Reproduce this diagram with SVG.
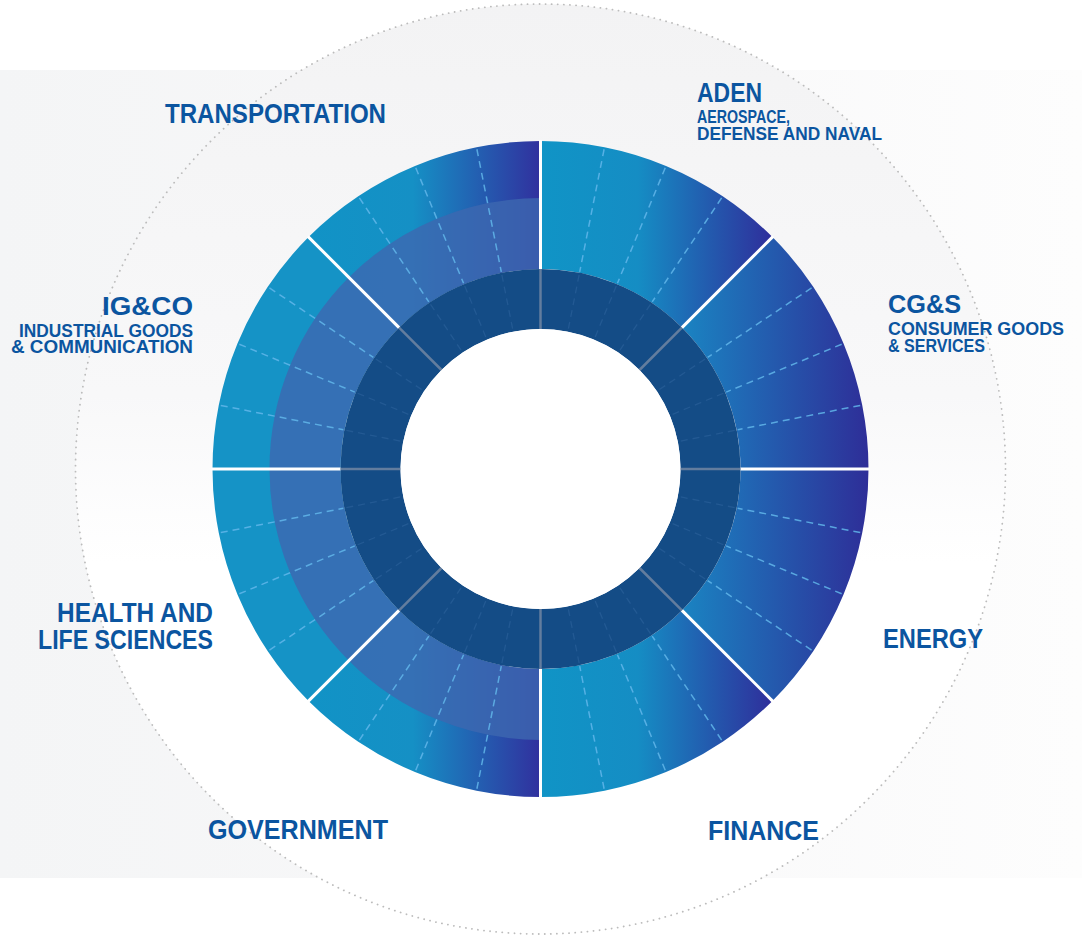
<svg xmlns="http://www.w3.org/2000/svg" width="1082" height="938" viewBox="0 0 1082 938">
  <defs>
    <linearGradient id="bgRect" x1="0" y1="0" x2="1082" y2="0" gradientUnits="userSpaceOnUse">
      <stop offset="0" stop-color="#f4f5f6"/>
      <stop offset="0.5" stop-color="#f8f8f9"/>
      <stop offset="1" stop-color="#fdfdfd"/>
    </linearGradient>
    <linearGradient id="bgCircle" x1="0" y1="4" x2="0" y2="934" gradientUnits="userSpaceOnUse">
      <stop offset="0" stop-color="#f3f3f4"/>
      <stop offset="0.42" stop-color="#f8f8f9"/>
      <stop offset="0.6" stop-color="#ffffff"/>
      <stop offset="1" stop-color="#ffffff"/>
    </linearGradient>
    <linearGradient id="gRightTB" x1="540.5" y1="0" x2="772.5" y2="0" gradientUnits="userSpaceOnUse">
      <stop offset="0" stop-color="#1094c6"/>
      <stop offset="0.42" stop-color="#158dc4"/>
      <stop offset="1" stop-color="#2f2e9b"/>
    </linearGradient>
    <linearGradient id="gRightMid" x1="682" y1="0" x2="868.5" y2="0" gradientUnits="userSpaceOnUse">
      <stop offset="0" stop-color="#1a84c2"/>
      <stop offset="1" stop-color="#2e2e98"/>
    </linearGradient>
    <linearGradient id="gLeftTB" x1="308.5" y1="0" x2="540.5" y2="0" gradientUnits="userSpaceOnUse">
      <stop offset="0" stop-color="#1193c6"/>
      <stop offset="0.45" stop-color="#1590c5"/>
      <stop offset="1" stop-color="#31309e"/>
    </linearGradient>
    <style>
      .lbl { font-family: "Liberation Sans", Arial, sans-serif; font-weight: bold; fill: #0b55a0; }
      .big { font-size: 27px; }
      .mid { font-size: 25px; }
      .sub { font-size: 18px; }
      .band { fill: #3d68b0; fill-opacity: 0.8; }
      .dash { stroke: #62b6ea; stroke-width: 1.5; stroke-dasharray: 7 5; fill: none; stroke-opacity: 0.85; }
      .dashDark { stroke: #3f72ab; stroke-width: 1.3; stroke-dasharray: 7 5; fill: none; stroke-opacity: 0.35; }
      .div { stroke: #ffffff; stroke-width: 3; }
      .divDark { stroke: #7d8ea6; stroke-width: 2.5; stroke-opacity: 0.75; }
    </style>
  </defs>

  <!-- background -->
  <rect x="0" y="70" width="1082" height="808" fill="url(#bgRect)"/>
  <circle cx="540.5" cy="469" r="465" fill="url(#bgCircle)" stroke="#bcbcbc" stroke-width="1.8" stroke-dasharray="0.1 6" stroke-linecap="round"/>

  <!-- sectors -->
  <g id="aden">
    <path d="M540.5,141 A328,328 0 0 1 772.43,237.07 L681.92,327.58 A200,200 0 0 0 540.5,269 Z" fill="url(#gRightTB)"/>
    <text class="lbl big" x="697" y="102" textLength="65" lengthAdjust="spacingAndGlyphs">ADEN</text>
    <text class="lbl sub" x="697" y="123" textLength="93" lengthAdjust="spacingAndGlyphs">AEROSPACE,</text>
    <text class="lbl sub" x="697" y="140" textLength="185" lengthAdjust="spacingAndGlyphs">DEFENSE AND NAVAL</text>
  </g>
  <g id="cgs">
    <path d="M772.43,237.07 A328,328 0 0 1 868.5,469 L740.5,469 A200,200 0 0 0 681.92,327.58 Z" fill="url(#gRightMid)"/>
    <text class="lbl mid" x="888" y="313" textLength="73" lengthAdjust="spacingAndGlyphs">CG&amp;S</text>
    <text class="lbl sub" x="888" y="335" textLength="176" lengthAdjust="spacingAndGlyphs">CONSUMER GOODS</text>
    <text class="lbl sub" x="888" y="352" textLength="97" lengthAdjust="spacingAndGlyphs">&amp; SERVICES</text>
  </g>
  <g id="energy">
    <path d="M868.5,469 A328,328 0 0 1 772.43,700.93 L681.92,610.42 A200,200 0 0 0 740.5,469 Z" fill="url(#gRightMid)"/>
    <text class="lbl big" x="883" y="648" textLength="100" lengthAdjust="spacingAndGlyphs">ENERGY</text>
  </g>
  <g id="finance">
    <path d="M772.43,700.93 A328,328 0 0 1 540.5,797 L540.5,669 A200,200 0 0 0 681.92,610.42 Z" fill="url(#gRightTB)"/>
    <text class="lbl big" x="708" y="840" textLength="111" lengthAdjust="spacingAndGlyphs">FINANCE</text>
  </g>
  <g id="government">
    <path d="M540.5,797 A328,328 0 0 1 308.57,700.93 L399.08,610.42 A200,200 0 0 0 540.5,669 Z" fill="url(#gLeftTB)"/>
    <path class="band" d="M540.5,740 A271,271 0 0 1 348.87,660.63 L399.08,610.42 A200,200 0 0 0 540.5,669 Z"/>
    <text class="lbl big" x="208" y="839" textLength="180" lengthAdjust="spacingAndGlyphs">GOVERNMENT</text>
  </g>
  <g id="health">
    <path d="M308.57,700.93 A328,328 0 0 1 212.5,469 L340.5,469 A200,200 0 0 0 399.08,610.42 Z" fill="#1593c6"/>
    <path class="band" d="M348.87,660.63 A271,271 0 0 1 269.5,469 L340.5,469 A200,200 0 0 0 399.08,610.42 Z"/>
    <text class="lbl big" x="213" y="622" text-anchor="end" textLength="156" lengthAdjust="spacingAndGlyphs">HEALTH AND</text>
    <text class="lbl big" x="213" y="649" text-anchor="end" textLength="175" lengthAdjust="spacingAndGlyphs">LIFE SCIENCES</text>
  </g>
  <g id="igco">
    <path d="M212.5,469 A328,328 0 0 1 308.57,237.07 L399.08,327.58 A200,200 0 0 0 340.5,469 Z" fill="#1593c6"/>
    <path class="band" d="M269.5,469 A271,271 0 0 1 348.87,277.37 L399.08,327.58 A200,200 0 0 0 340.5,469 Z"/>
    <text class="lbl mid" x="193" y="315" text-anchor="end" textLength="91" lengthAdjust="spacingAndGlyphs">IG&amp;CO</text>
    <text class="lbl sub" x="193" y="337" text-anchor="end" textLength="174" lengthAdjust="spacingAndGlyphs">INDUSTRIAL GOODS</text>
    <text class="lbl sub" x="193" y="353" text-anchor="end" textLength="182" lengthAdjust="spacingAndGlyphs">&amp; COMMUNICATION</text>
  </g>
  <g id="transportation">
    <path d="M308.57,237.07 A328,328 0 0 1 540.5,141 L540.5,269 A200,200 0 0 0 399.08,327.58 Z" fill="url(#gLeftTB)"/>
    <path class="band" d="M348.87,277.37 A271,271 0 0 1 540.5,198 L540.5,269 A200,200 0 0 0 399.08,327.58 Z"/>
    <text class="lbl big" x="165" y="123" textLength="221" lengthAdjust="spacingAndGlyphs">TRANSPORTATION</text>
  </g>

  <!-- inner rings -->
  <g id="core">
    <circle cx="540.5" cy="469" r="170" fill="none" stroke="#144c86" stroke-width="60"/>
    <circle cx="540.5" cy="469" r="140" fill="#ffffff"/>
  </g>

  <!-- connectors: dividers and dashed ticks -->
  <g id="connectors">
    <g id="dashes">
      <line class="dash" x1="540.5" y1="143" x2="540.5" y2="268" transform="rotate(11.25 540.5 469)"/>
      <line class="dash" x1="540.5" y1="143" x2="540.5" y2="268" transform="rotate(22.5 540.5 469)"/>
      <line class="dash" x1="540.5" y1="143" x2="540.5" y2="268" transform="rotate(33.75 540.5 469)"/>
      <line class="dash" x1="540.5" y1="143" x2="540.5" y2="268" transform="rotate(56.25 540.5 469)"/>
      <line class="dash" x1="540.5" y1="143" x2="540.5" y2="268" transform="rotate(67.5 540.5 469)"/>
      <line class="dash" x1="540.5" y1="143" x2="540.5" y2="268" transform="rotate(78.75 540.5 469)"/>
      <line class="dash" x1="540.5" y1="143" x2="540.5" y2="268" transform="rotate(101.25 540.5 469)"/>
      <line class="dash" x1="540.5" y1="143" x2="540.5" y2="268" transform="rotate(112.5 540.5 469)"/>
      <line class="dash" x1="540.5" y1="143" x2="540.5" y2="268" transform="rotate(123.75 540.5 469)"/>
      <line class="dash" x1="540.5" y1="143" x2="540.5" y2="268" transform="rotate(146.25 540.5 469)"/>
      <line class="dash" x1="540.5" y1="143" x2="540.5" y2="268" transform="rotate(157.5 540.5 469)"/>
      <line class="dash" x1="540.5" y1="143" x2="540.5" y2="268" transform="rotate(168.75 540.5 469)"/>
      <line class="dash" x1="540.5" y1="143" x2="540.5" y2="268" transform="rotate(191.25 540.5 469)"/>
      <line class="dash" x1="540.5" y1="143" x2="540.5" y2="268" transform="rotate(202.5 540.5 469)"/>
      <line class="dash" x1="540.5" y1="143" x2="540.5" y2="268" transform="rotate(213.75 540.5 469)"/>
      <line class="dash" x1="540.5" y1="143" x2="540.5" y2="268" transform="rotate(236.25 540.5 469)"/>
      <line class="dash" x1="540.5" y1="143" x2="540.5" y2="268" transform="rotate(247.5 540.5 469)"/>
      <line class="dash" x1="540.5" y1="143" x2="540.5" y2="268" transform="rotate(258.75 540.5 469)"/>
      <line class="dash" x1="540.5" y1="143" x2="540.5" y2="268" transform="rotate(281.25 540.5 469)"/>
      <line class="dash" x1="540.5" y1="143" x2="540.5" y2="268" transform="rotate(292.5 540.5 469)"/>
      <line class="dash" x1="540.5" y1="143" x2="540.5" y2="268" transform="rotate(303.75 540.5 469)"/>
      <line class="dash" x1="540.5" y1="143" x2="540.5" y2="268" transform="rotate(326.25 540.5 469)"/>
      <line class="dash" x1="540.5" y1="143" x2="540.5" y2="268" transform="rotate(337.5 540.5 469)"/>
      <line class="dash" x1="540.5" y1="143" x2="540.5" y2="268" transform="rotate(348.75 540.5 469)"/>
    </g>
    <g id="dashesDark">
      <line class="dashDark" x1="540.5" y1="271" x2="540.5" y2="329" transform="rotate(11.25 540.5 469)"/>
      <line class="dashDark" x1="540.5" y1="271" x2="540.5" y2="329" transform="rotate(22.5 540.5 469)"/>
      <line class="dashDark" x1="540.5" y1="271" x2="540.5" y2="329" transform="rotate(33.75 540.5 469)"/>
      <line class="dashDark" x1="540.5" y1="271" x2="540.5" y2="329" transform="rotate(56.25 540.5 469)"/>
      <line class="dashDark" x1="540.5" y1="271" x2="540.5" y2="329" transform="rotate(67.5 540.5 469)"/>
      <line class="dashDark" x1="540.5" y1="271" x2="540.5" y2="329" transform="rotate(78.75 540.5 469)"/>
      <line class="dashDark" x1="540.5" y1="271" x2="540.5" y2="329" transform="rotate(101.25 540.5 469)"/>
      <line class="dashDark" x1="540.5" y1="271" x2="540.5" y2="329" transform="rotate(112.5 540.5 469)"/>
      <line class="dashDark" x1="540.5" y1="271" x2="540.5" y2="329" transform="rotate(123.75 540.5 469)"/>
      <line class="dashDark" x1="540.5" y1="271" x2="540.5" y2="329" transform="rotate(146.25 540.5 469)"/>
      <line class="dashDark" x1="540.5" y1="271" x2="540.5" y2="329" transform="rotate(157.5 540.5 469)"/>
      <line class="dashDark" x1="540.5" y1="271" x2="540.5" y2="329" transform="rotate(168.75 540.5 469)"/>
      <line class="dashDark" x1="540.5" y1="271" x2="540.5" y2="329" transform="rotate(191.25 540.5 469)"/>
      <line class="dashDark" x1="540.5" y1="271" x2="540.5" y2="329" transform="rotate(202.5 540.5 469)"/>
      <line class="dashDark" x1="540.5" y1="271" x2="540.5" y2="329" transform="rotate(213.75 540.5 469)"/>
      <line class="dashDark" x1="540.5" y1="271" x2="540.5" y2="329" transform="rotate(236.25 540.5 469)"/>
      <line class="dashDark" x1="540.5" y1="271" x2="540.5" y2="329" transform="rotate(247.5 540.5 469)"/>
      <line class="dashDark" x1="540.5" y1="271" x2="540.5" y2="329" transform="rotate(258.75 540.5 469)"/>
      <line class="dashDark" x1="540.5" y1="271" x2="540.5" y2="329" transform="rotate(281.25 540.5 469)"/>
      <line class="dashDark" x1="540.5" y1="271" x2="540.5" y2="329" transform="rotate(292.5 540.5 469)"/>
      <line class="dashDark" x1="540.5" y1="271" x2="540.5" y2="329" transform="rotate(303.75 540.5 469)"/>
      <line class="dashDark" x1="540.5" y1="271" x2="540.5" y2="329" transform="rotate(326.25 540.5 469)"/>
      <line class="dashDark" x1="540.5" y1="271" x2="540.5" y2="329" transform="rotate(337.5 540.5 469)"/>
      <line class="dashDark" x1="540.5" y1="271" x2="540.5" y2="329" transform="rotate(348.75 540.5 469)"/>
    </g>
    <g id="dividers">
      <line class="div" x1="540.5" y1="140" x2="540.5" y2="269"/>
      <line class="div" x1="540.5" y1="140" x2="540.5" y2="269" transform="rotate(45 540.5 469)"/>
      <line class="div" x1="540.5" y1="140" x2="540.5" y2="269" transform="rotate(90 540.5 469)"/>
      <line class="div" x1="540.5" y1="140" x2="540.5" y2="269" transform="rotate(135 540.5 469)"/>
      <line class="div" x1="540.5" y1="140" x2="540.5" y2="269" transform="rotate(180 540.5 469)"/>
      <line class="div" x1="540.5" y1="140" x2="540.5" y2="269" transform="rotate(225 540.5 469)"/>
      <line class="div" x1="540.5" y1="140" x2="540.5" y2="269" transform="rotate(270 540.5 469)"/>
      <line class="div" x1="540.5" y1="140" x2="540.5" y2="269" transform="rotate(315 540.5 469)"/>
      <line class="divDark" x1="540.5" y1="269" x2="540.5" y2="329"/>
      <line class="divDark" x1="540.5" y1="269" x2="540.5" y2="329" transform="rotate(45 540.5 469)"/>
      <line class="divDark" x1="540.5" y1="269" x2="540.5" y2="329" transform="rotate(90 540.5 469)"/>
      <line class="divDark" x1="540.5" y1="269" x2="540.5" y2="329" transform="rotate(135 540.5 469)"/>
      <line class="divDark" x1="540.5" y1="269" x2="540.5" y2="329" transform="rotate(180 540.5 469)"/>
      <line class="divDark" x1="540.5" y1="269" x2="540.5" y2="329" transform="rotate(225 540.5 469)"/>
      <line class="divDark" x1="540.5" y1="269" x2="540.5" y2="329" transform="rotate(270 540.5 469)"/>
      <line class="divDark" x1="540.5" y1="269" x2="540.5" y2="329" transform="rotate(315 540.5 469)"/>
    </g>
  </g>
</svg>
